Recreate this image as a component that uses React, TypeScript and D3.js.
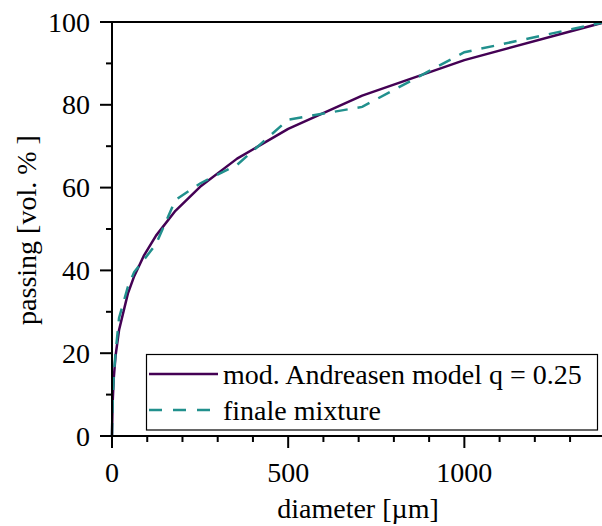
import React from 'react'
import * as d3 from 'd3'

// sieve sizes in µm
const diameters = [0, 1, 2, 5, 10, 20, 45, 63, 90, 125, 180, 250, 355, 500, 710, 1000, 1400]
const andreasen = [0, 4.8, 8.4, 14.0, 19.3, 25.6, 34.4, 38.6, 43.5, 48.4, 54.4, 60.2, 67.0, 74.2, 82.2, 90.8, 100]
const mixture = [0, 4.8, 8.4, 14.5, 20.0, 28.5, 36.0, 39.6, 42.5, 46.4, 57.0, 61.0, 65.5, 76.4, 79.5, 92.7, 100]

const xMajor = [0, 500, 1000]
const xMinor = [100, 200, 300, 400, 600, 700, 800, 900, 1100, 1200, 1300]
const yMajor = [0, 20, 40, 60, 80, 100]
const yMinor = [10, 30, 50, 70, 90]

const seriesNames = ['mod. Andreasen model q = 0.25', 'finale mixture']
const colors = ['#440154', '#21908d']

const W = 602, H = 526
const margin = { top: 22, left: 112, bottom: 436 }

const css = `
svg.chart text { font-family: 'Liberation Serif', 'Times New Roman', serif !important; font-size: 28px !important; }
`

export default function App() {
    const x = d3.scaleLinear().domain([0, 1400]).range([margin.left, 605.3])
    const y = d3.scaleLinear().domain([0, 100]).range([margin.bottom, margin.top])

    const line = d3.line<number>()
        .x((d, i) => x(diameters[i]))
        .y(d => y(d))

    const ff = { fontFamily: 'Liberation Serif' }

    return (
        <div style={{ position: 'absolute', left: 0, top: 0, width: W, height: H, background: 'white' }}>
        <style>{css}</style>
        <svg className="chart" width={W} height={H} fontFamily="Liberation Serif" style={{ display: 'block' }}>
            {/* curves */}
            <path d={line(andreasen) || ''} fill="none" stroke={colors[0]} strokeWidth={2.5} strokeLinejoin="round" />
            <path d={line(mixture) || ''} fill="none" stroke={colors[1]} strokeWidth={2.5} strokeDasharray="13,10" />

            {/* frame and ticks */}
            <g stroke="black" strokeWidth={2}>
                <line x1={x(0)} x2={W} y1={y(0)} y2={y(0)} />
                <line x1={x(0)} x2={W} y1={y(100)} y2={y(100)} />
                <line x1={x(0)} x2={x(0)} y1={y(0) + 1} y2={y(100) - 1} />
                {yMajor.map(d => <line key={'ym' + d} x1={x(0) - 12} x2={x(0)} y1={y(d)} y2={y(d)} />)}
                {yMinor.map(d => <line key={'yn' + d} x1={x(0) - 6} x2={x(0)} y1={y(d)} y2={y(d)} />)}
                {xMajor.map(d => <line key={'xm' + d} x1={x(d)} x2={x(d)} y1={y(0)} y2={y(0) + 12} />)}
                {xMinor.map(d => <line key={'xn' + d} x1={x(d)} x2={x(d)} y1={y(0)} y2={y(0) + 6} />)}
            </g>

            {/* tick labels */}
            {yMajor.map(d => (
                <text key={'yl' + d} x={90} y={y(d) + 9.5} textAnchor="end" fontSize={28} style={ff}>{d}</text>
            ))}
            {xMajor.map(d => (
                <text key={'xl' + d} x={x(d)} y={482} textAnchor="middle" fontSize={28} style={ff}>{d}</text>
            ))}

            {/* axis titles */}
            <text x={358} y={518} textAnchor="middle" fontSize={28} style={ff}>diameter [µm]</text>
            <text transform="translate(36,230) rotate(-90)" textAnchor="middle" fontSize={28} style={ff}>passing [vol. % ]</text>

            {/* legend */}
            <rect x={146.5} y={354.5} width={451} height={75.5} fill="white" stroke="black" strokeWidth={1.2} />
            {seriesNames.map((name, i) => {
                const ly = 374 + i * 36
                return (
                    <g key={name}>
                        <line x1={149} x2={218} y1={ly} y2={ly} stroke={colors[i]} strokeWidth={2.5}
                            strokeDasharray={i === 1 ? '13,11' : undefined} />
                        <text x={223} y={ly + 10} fontSize={28} style={ff}>{name}</text>
                    </g>
                )
            })}
        </svg>
        </div>
    )
}
